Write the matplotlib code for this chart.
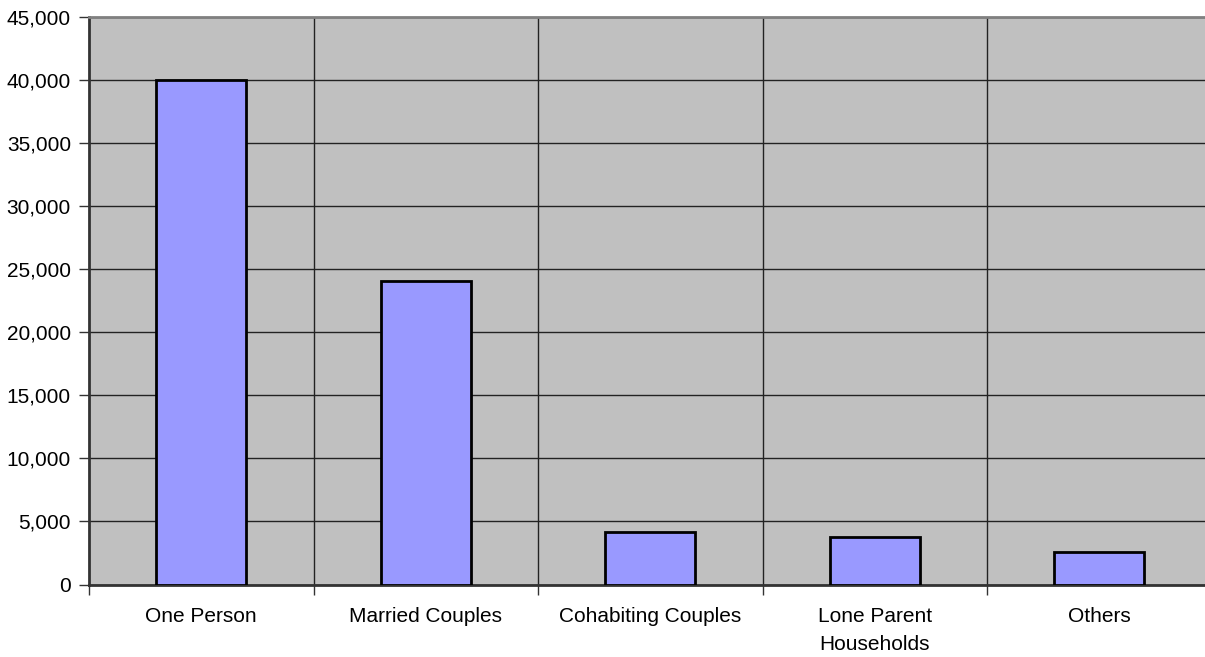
import matplotlib.pyplot as plt
from matplotlib.ticker import FuncFormatter, MultipleLocator

plt.rcParams['font.family'] = ['Liberation Sans', 'DejaVu Sans']

# Household types and counts
categories = ["One Person", "Married Couples", "Cohabiting Couples",
              "Lone Parent\nHouseholds", "Others"]
households = [40000, 24100, 4200, 3750, 2600]

fig = plt.figure(figsize=(12.05, 6.57), dpi=100)
# plot area runs a little past the right edge, as in the reference
ax = fig.add_axes([89 / 1205, 1 - 584.5 / 657, 1122.5 / 1205, 567.5 / 657])
ax.set_facecolor("#c0c0c0")

x = list(range(len(categories)))
ax.bar(x, households, width=0.4, color="#9999ff", edgecolor="black",
       linewidth=2, zorder=3)

ax.set_xlim(-0.5, len(categories) - 0.5)
ax.set_ylim(0, 45000)
ax.yaxis.set_major_locator(MultipleLocator(5000))
ax.yaxis.set_major_formatter(FuncFormatter(lambda v, p: f"{int(v):,}"))

# category labels centred, ticks at the boundaries
ax.set_xticks(x)
ax.set_xticklabels(categories, fontsize=15, linespacing=1.65)
ax.tick_params(axis="x", length=0, pad=16)
ax.set_xticks([i - 0.5 for i in range(len(categories) + 1)], minor=True)
ax.tick_params(axis="x", which="minor", length=7, width=1, color="#333333")
ax.tick_params(axis="y", length=7, width=1, color="#333333", labelsize=15, pad=6)

# gridlines
ax.grid(axis="y", color="#222222", linewidth=1.0, zorder=1)
for b in range(1, len(categories)):
    ax.axvline(b - 0.5, color="#222222", linewidth=1.0, zorder=1)

for side in ["left", "bottom"]:
    ax.spines[side].set_color("#333333")
    ax.spines[side].set_linewidth(2)
ax.spines["top"].set_color("#808080")
ax.spines["top"].set_linewidth(2)
ax.spines["right"].set_visible(False)

fig.savefig("out.png", dpi=100)
